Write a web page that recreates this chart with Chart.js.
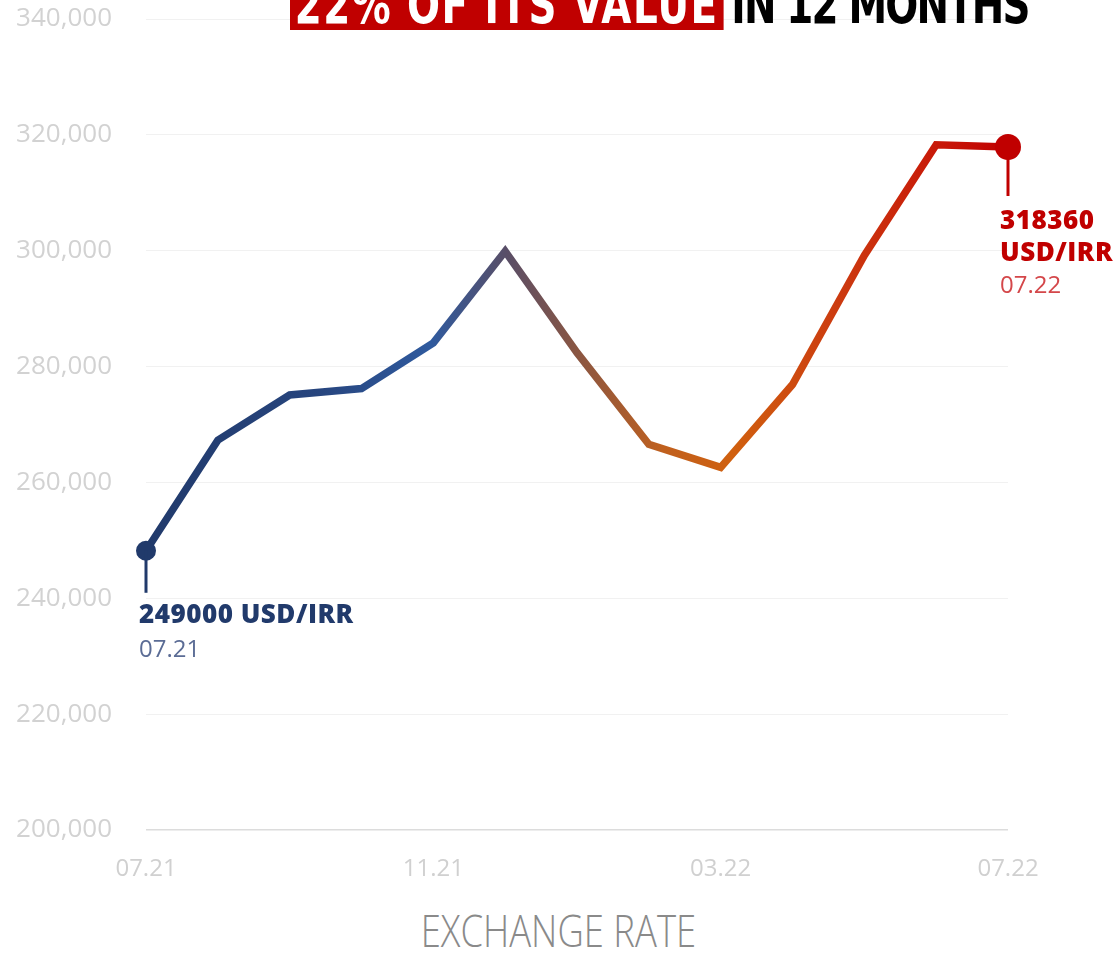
<!DOCTYPE html>
<html>
<head>
<meta charset="utf-8">
<script src="https://cdn.jsdelivr.net/npm/chart.js@4"></script>
<style>
  html, body { margin: 0; padding: 0; background: #fff; width: 1117px; height: 953px; overflow: hidden; }
  #wrap { position: absolute; left: 0; top: 0; width: 1117px; height: 883px; }
  #title { position: absolute; top: -20px; left: 290px; white-space: nowrap;
    font-family: "DejaVu Sans Condensed", "DejaVu Sans"; font-weight: bold; font-size: 54px; line-height: 50px;
    transform: scaleX(0.8); transform-origin: 0 0; }
  #title span { display: inline-block; height: 50px; vertical-align: top; }
  #title .hl { background: #c00000; color: #fff; padding: 0 6px; letter-spacing: 1.8px; }
  #title .rest { color: #000; padding-left: 10px; letter-spacing: -2.3px; }
  #xtitle { position: absolute; left: 0; width: 1117px; top: 907px; text-align: center;
    font-family: "Open Sans"; font-weight: 300; font-size: 45px; line-height: 45px;
    color: #8a8a8a; transform: scaleX(0.81); transform-origin: 558px 0; }
</style>
</head>
<body>
<div id="wrap"><canvas id="chart"></canvas></div>
<div id="title"><span class="hl">22% OF ITS VALUE</span><span class="rest">IN 12 MONTHS</span></div>
<div id="xtitle">EXCHANGE RATE</div>
<script>
// monthly USD/IRR rate
const months = ['07.21', '08.21', '09.21', '10.21', '11.21', '12.21', '01.22',
                '02.22', '03.22', '04.22', '05.22', '06.22', '07.22'];
const rates = [248200, 267300, 275100, 276200, 284100, 299900, 282400,
               266600, 262600, 276900, 299200, 318300, 317900];
const xTickLabels = ['07.21', '11.21', '03.22', '07.22'];
const yMin = 200000, yMax = 340000, yStep = 20000;
const startNote = ['249000 USD/IRR', '07.21'];
const endNote = ['318360', 'USD/IRR', '07.22'];

Chart.defaults.font.family = '"Open Sans", sans-serif';

function lineGradient(c) {
  const a = c.chart.chartArea;
  if (!a) return '#213a6b';
  const g = c.chart.ctx.createLinearGradient(a.left, 0, a.right, 0);
  g.addColorStop(0, '#213a6b');
  g.addColorStop(0.2, '#27457e');
  g.addColorStop(0.33, '#2f5a9e');
  g.addColorStop(0.42, '#5a4e66');
  g.addColorStop(0.5, '#8a5642');
  g.addColorStop(0.6, '#c0601e');
  g.addColorStop(0.68, '#d0600f');
  g.addColorStop(0.8, '#cc3c10');
  g.addColorStop(0.92, '#c81808');
  g.addColorStop(1, '#c00000');
  return g;
}

const notes = {
  id: 'notes',
  afterDatasetsDraw(chart) {
    const ctx = chart.ctx;
    const pts = chart.getDatasetMeta(0).data;
    const p0 = pts[0], pn = pts[pts.length - 1];
    ctx.save();
    ctx.lineWidth = 3;
    ctx.strokeStyle = '#213a6b';
    ctx.beginPath(); ctx.moveTo(p0.x, p0.y); ctx.lineTo(p0.x, p0.y + 42); ctx.stroke();
    ctx.strokeStyle = '#c00000';
    ctx.beginPath(); ctx.moveTo(pn.x, pn.y); ctx.lineTo(pn.x, pn.y + 49); ctx.stroke();

    ctx.textAlign = 'left';
    ctx.textBaseline = 'alphabetic';
    ctx.letterSpacing = '0.5px';
    ctx.font = '800 26px "Open Sans"';
    ctx.fillStyle = '#213a6b';
    ctx.fillText(startNote[0], p0.x - 7, p0.y + 72);
    ctx.fillStyle = '#c00000';
    ctx.fillText(endNote[0], pn.x - 8, pn.y + 82);
    ctx.fillText(endNote[1], pn.x - 8, pn.y + 114);
    ctx.letterSpacing = '0px';
    ctx.font = '400 24px "Open Sans"';
    ctx.fillStyle = '#5b6c95';
    ctx.fillText(startNote[1], p0.x - 7, p0.y + 106);
    ctx.fillStyle = '#d4474a';
    ctx.fillText(endNote[2], pn.x - 8, pn.y + 146);
    ctx.restore();
  }
};

const last = rates.length - 1;

new Chart(document.getElementById('chart'), {
  type: 'line',
  data: {
    labels: months,
    datasets: [{
      label: 'USD/IRR',
      data: rates,
      borderColor: lineGradient,
      borderWidth: 7.5,
      tension: 0,
      clip: false,
      pointRadius: c => c.dataIndex === 0 ? 10 : (c.dataIndex === last ? 13 : 0),
      pointHoverRadius: c => c.dataIndex === 0 ? 10 : (c.dataIndex === last ? 13 : 0),
      pointBorderWidth: 0,
      pointBackgroundColor: c => c.dataIndex === 0 ? '#213a6b' : '#c00000'
    }]
  },
  options: {
    responsive: true,
    maintainAspectRatio: false,
    animation: false,
    layout: { padding: { top: 19, right: 109, bottom: 0, left: 0 } },
    plugins: { legend: { display: false }, tooltip: { enabled: false } },
    scales: {
      x: {
        grid: { display: false, drawTicks: false },
        border: { display: false },
        afterFit: s => { s.height = 53; s.paddingLeft = 0; s.paddingRight = 0; },
        ticks: {
          autoSkip: false,
          maxRotation: 0,
          padding: 25,
          color: '#d0d0d0',
          font: { size: 24 },
          callback: (v, i) => xTickLabels.includes(months[i]) ? months[i] : ''
        }
      },
      y: {
        min: yMin,
        max: yMax,
        border: { display: false },
        afterFit: s => { s.width = 146; s.paddingTop = 0; s.paddingBottom = 0; },
        grid: {
          drawTicks: false,
          color: c => c.tick && c.tick.value === yMin ? '#dcdcdc' : '#f1f1f1',
          lineWidth: c => c.tick && c.tick.value === yMin ? 1.5 : 1
        },
        ticks: {
          stepSize: yStep,
          padding: 34,
          color: '#d2d2d2',
          font: { size: 26 }
        }
      }
    }
  },
  plugins: [notes]
});
</script>
</body>
</html>
